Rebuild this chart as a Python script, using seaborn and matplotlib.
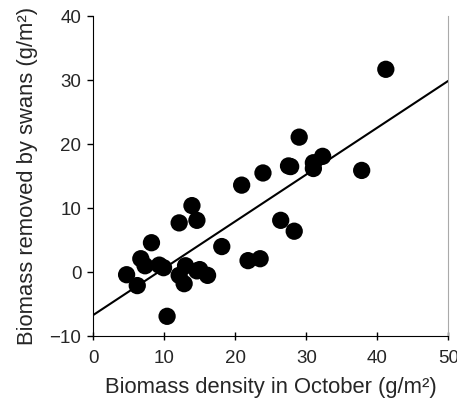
import matplotlib
matplotlib.use("Agg")
import matplotlib.pyplot as plt
import seaborn as sns
import numpy as np
import pandas as pd

biomass_october = [4.7, 6.2, 6.7, 7.3, 8.2, 9.3, 9.9, 10.4, 12.1, 12.1, 12.8, 13.0,
                   13.9, 14.6, 14.6, 15.0, 16.1, 18.1, 20.9, 21.8, 23.5, 23.9,
                   26.4, 27.5, 27.8, 28.3, 29.0, 31.0, 31.0, 32.3, 37.8, 41.2]
biomass_removed = [-0.4, -2.1, 2.1, 1.0, 4.6, 1.1, 0.7, -6.9, 7.7, -0.5, -1.8, 1.0,
                   10.4, 8.1, 0.2, 0.4, -0.5, 4.0, 13.6, 1.8, 2.1, 15.5,
                   8.1, 16.6, 16.5, 6.4, 21.1, 17.1, 16.2, 18.1, 15.9, 31.7]
fit_intercept = -6.7
fit_slope = 0.732
x_ticks = [0, 10, 20, 30, 40, 50]
y_ticks = [-10, 0, 10, 20, 30, 40]

df = pd.DataFrame({"x": biomass_october, "y": biomass_removed})
line_x = np.array([0, 50])
line_df = pd.DataFrame({"x": line_x, "y": fit_intercept + fit_slope * line_x})

sns.set_style("ticks")
plt.rcParams['font.family'] = ['Liberation Sans', 'DejaVu Sans']

fig = plt.figure(figsize=(4.57, 4.05), dpi=100)
ax = fig.add_axes([0.204, 0.170, 0.777, 0.790])

sns.lineplot(data=line_df, x="x", y="y", color="black", linewidth=1.5, ax=ax)
sns.scatterplot(data=df, x="x", y="y", color="black", s=155, edgecolor="none", ax=ax, zorder=3)

ax.set_xlim(0, 50)
ax.set_ylim(-10, 40)
ax.set_xticks(x_ticks)
ax.set_yticks(y_ticks)
ax.set_yticklabels(["\u221210" if t < 0 else str(t) for t in y_ticks])
ax.tick_params(axis="both", labelsize=13.5, color="black", width=1)
ax.tick_params(axis="y", length=4.5, pad=4)
ax.tick_params(axis="x", direction="inout", length=6, pad=7)
ax.set_xlabel("Biomass density in October (g/m\u00b2)", fontsize=15.8, labelpad=7)
ax.set_ylabel("Biomass removed by swans (g/m\u00b2)", fontsize=15.8, labelpad=8)

ax.spines["top"].set_visible(False)
ax.spines["right"].set_visible(True)
ax.spines["right"].set_color("#aaaaaa")
ax.spines["left"].set_color("black")
ax.spines["bottom"].set_color("black")

fig.savefig("out.png", dpi=100)
